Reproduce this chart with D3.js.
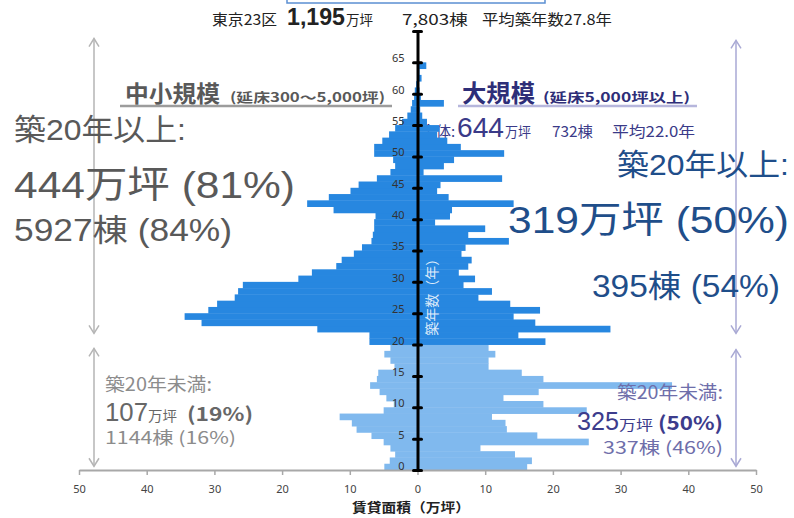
<!DOCTYPE html>
<html>
<head>
<meta charset="utf-8">
<script src="https://cdn.jsdelivr.net/npm/d3@7"></script>
<style>
  html, body { margin: 0; padding: 0; background: #fff; }
  svg { display: block; }
  text { font-family: "Noto Sans CJK JP", "Noto Sans", sans-serif; }
  .latin { font-family: "Liberation Sans", "Noto Sans CJK JP", sans-serif; }
</style>
</head>
<body>
<svg id="chart" width="794" height="518"></svg>
<script>
// Building age in years, one bar per year (0 = newest)
const ages = d3.range(0, 67);

// Rentable floor area of small & mid-size buildings (300–5,000 tsubo), 万坪, by age
const midSmallArea = [
  4.9, 4.1, 3.3, 4.0, 5.0, 6.8, 9.0, 9.7, 11.5, 5.0,
  3.5, 4.6, 5.6, 7.0, 6.0, 5.8, 3.4, 4.0, 4.9, 4.0,
  7.1, 7.1, 14.8, 31.9, 34.4, 30.9, 29.6, 27.0, 26.5, 25.8,
  17.6, 15.6, 12.0, 11.2, 9.4, 8.2, 6.8, 6.6, 6.4, 6.4,
  6.2, 12.4, 16.3, 13.1, 9.9, 8.7, 6.0, 4.0, 3.3, 3.6,
  6.4, 6.4, 5.2, 4.2, 3.3, 2.3, 1.5, 1.0, 0.8, 0.5,
  0.4, 0.2, 0, 0, 0, 0, 0
];

// Rentable floor area of large buildings (5,000 tsubo and over), 万坪, by age
const largeArea = [
  16.2, 16.9, 14.4, 9.3, 25.3, 17.7, 13.2, 13.0, 11.0, 25.0,
  18.6, 12.7, 17.9, 37.6, 18.6, 15.4, 10.5, 10.5, 11.5, 10.5,
  18.9, 14.9, 28.5, 17.4, 14.2, 18.1, 13.7, 9.0, 11.0, 6.8,
  8.5, 6.1, 7.5, 8.0, 6.5, 7.1, 13.5, 7.5, 10.0, 2.6,
  4.8, 5.1, 14.2, 4.6, 2.9, 3.4, 12.5, 0.9, 3.9, 5.4,
  12.8, 6.4, 4.4, 2.9, 3.2, 1.4, 0.7, 0.4, 3.9, 0.5,
  0.3, 0.2, 0.6, 0.3, 1.3, 0, 0
];

// Age boundary between the two colour groups
const ageSplit = 20;

// Axis ticks
const ageTicks = d3.range(0, 75, 5);               // 0 … 70
const areaTicks = [-50, -40, -30, -20, -10, 0, 10, 20, 30, 40, 50];

const colorOld = "#2787e0";
const colorNew = "#80b9ee";

const svg = d3.select("#chart");

const x = d3.scaleLinear().domain([-50, 50]).range([79, 756]);
const y = d3.scaleLinear().domain([0, 70]).range([470, 31]);
const x0 = x(0);

// Places one run of text; optional fitted width keeps the wide label style
function label(parent, t, o) {
  const el = parent.append("text")
    .attr("x", o.x).attr("y", o.y)
    .attr("fill", o.color || "#222")
    .attr("text-anchor", o.anchor || "start")
    .style("font-size", o.size + "px")
    .style("font-weight", o.bold ? "bold" : "normal")
    .text(t);
  if (o.latin) el.attr("class", "latin");
  if (o.len) el.attr("textLength", o.len).attr("lengthAdjust", "spacingAndGlyphs");
  return el;
}

// ---- frame of the title box (only its lower edge shows) ----
svg.append("rect")
  .attr("x", 287).attr("y", -20).attr("width", 258).attr("height", 23)
  .attr("fill", "none").attr("stroke", "#5b8fd2").attr("stroke-width", 1.5);

// ---- headline totals ----
label(svg, "東京23区", { x: 212, y: 25, size: 15, len: 65 });
label(svg, "1,195", { x: 287, y: 25, size: 24, bold: true, latin: true, len: 58 });
label(svg, "万坪", { x: 346, y: 25, size: 14, len: 27 });
label(svg, "7,803棟", { x: 402, y: 25, size: 15, len: 66 });
label(svg, "平均築年数27.8年", { x: 482, y: 25, size: 15, len: 130 });

// ---- double-headed range arrows ----
function rangeArrow(xp, a1, a2, color) {
  const g = svg.append("g").attr("stroke", color).attr("stroke-width", 1.5).attr("fill", "none");
  const yt = y(a1), yb = y(a2);
  g.append("line").attr("x1", xp).attr("x2", xp).attr("y1", yt).attr("y2", yb);
  g.append("path").attr("d", `M${xp - 5},${yt + 8}L${xp},${yt}L${xp + 5},${yt + 8}`);
  g.append("path").attr("d", `M${xp - 5},${yb - 8}L${xp},${yb}L${xp + 5},${yb - 8}`);
}
rangeArrow(94, 68.8, 21.8, "#b5b5b5");
rangeArrow(94, 19.4, 0.6, "#b5b5b5");
rangeArrow(736, 68.5, 21.8, "#a9a9d4");
rangeArrow(736, 19.2, 0.6, "#a9a9d4");

// ---- group headers ----
label(svg, "中小規模", { x: 125, y: 102, size: 23, bold: true, color: "#595959", len: 95 });
label(svg, "(延床300～5,000坪)", { x: 230, y: 102, size: 13, bold: true, color: "#595959", len: 155 });
svg.append("line").attr("x1", 120).attr("x2", 392).attr("y1", 106).attr("y2", 106)
  .attr("stroke", "#9c9c9c").attr("stroke-width", 2.5);

label(svg, "大規模", { x: 462, y: 102, size: 24, bold: true, color: "#2e2e78", len: 73 });
label(svg, "(延床5,000坪以上)", { x: 543, y: 102, size: 13, bold: true, color: "#2e2e78", len: 147 });
svg.append("line").attr("x1", 458).attr("x2", 697).attr("y1", 106).attr("y2", 106)
  .attr("stroke", "#b6b6dc").attr("stroke-width", 2.5);

// large-building summary line (partly covered by the bars)
const sumColor = "#3a3a88";
label(svg, "全体:", { x: 421, y: 137, size: 15, color: sumColor });
label(svg, "644", { x: 457, y: 137, size: 28, color: sumColor, latin: true, len: 47 });
label(svg, "万坪", { x: 505, y: 137, size: 14, color: sumColor, len: 26 });
label(svg, "732棟", { x: 552, y: 137, size: 15, color: sumColor, len: 41 });
label(svg, "平均22.0年", { x: 612, y: 137, size: 15, color: sumColor, len: 83 });

// ---- bars ----
const rows = ages.map((a, i) => ({ age: a, left: midSmallArea[i], right: largeArea[i] }));
const fillFor = d => d.age < ageSplit ? colorNew : colorOld;
const barY = d => y(d.age + 1);
const barH = d => y(d.age) - y(d.age + 1) + 0.4;

svg.append("g").selectAll("rect").data(rows.filter(d => d.left > 0)).join("rect")
  .attr("x", d => x(-d.left)).attr("y", barY)
  .attr("width", d => x0 - x(-d.left)).attr("height", barH)
  .attr("fill", fillFor);

svg.append("g").selectAll("rect").data(rows.filter(d => d.right > 0)).join("rect")
  .attr("x", x0).attr("y", barY)
  .attr("width", d => x(d.right) - x0).attr("height", barH)
  .attr("fill", fillFor);

// vertical caption inside the bars
svg.append("text")
  .attr("transform", `translate(432,${y(28.1)}) rotate(-90)`)
  .attr("text-anchor", "middle").attr("dy", "0.35em")
  .attr("fill", "#ffffff").attr("fill-opacity", 0.85)
  .style("font-size", "14px")
  .text("築年数（年）");

// ---- horizontal axis ----
const gx = svg.append("g").attr("transform", `translate(0,${y(0)})`)
  .call(d3.axisBottom(x).tickValues(areaTicks).tickFormat(d => Math.abs(d))
    .tickSizeInner(5).tickSizeOuter(0).tickPadding(10));
gx.select(".domain").attr("stroke", "#a8a8a8").attr("stroke-width", 2);
gx.selectAll(".tick line").attr("stroke", "#a8a8a8").attr("stroke-width", 1.5);
gx.selectAll(".tick text").attr("fill", "#444").style("font-size", "11px")
  .style("font-family", "\"Noto Sans\", sans-serif");

label(svg, "賃貸面積（万坪）", { x: 352, y: 512, size: 13, bold: true, len: 118 });

// ---- vertical (age) axis ----
const gy = svg.append("g").attr("transform", `translate(${x0},0)`)
  .call(d3.axisLeft(y).tickValues(ageTicks).tickFormat(d => d === 70 ? "" : d)
    .tickSize(0).tickPadding(13));
gy.select(".domain").attr("stroke", "#000").attr("stroke-width", 3);
gy.selectAll(".tick").append("line")
  .attr("x1", -4).attr("x2", 4).attr("stroke", "#000").attr("stroke-width", 3)
  .attr("stroke-linecap", "round");
gy.selectAll(".tick text").attr("fill", "#333").attr("dy", "-0.05em")
  .style("font-size", "11px").style("font-family", "\"Noto Sans\", sans-serif");

// ---- age-group totals (20 years and over) ----
const grayText = "#595959", blueText = "#1f4e8a";
label(svg, "築20年以上:", { x: 14, y: 140, size: 30, color: grayText, latin: true, len: 172 });
label(svg, "444万坪 (81%)", { x: 14, y: 198, size: 37, color: grayText, latin: true, len: 281 });
label(svg, "5927棟 (84%)", { x: 14, y: 241, size: 31, color: grayText, latin: true, len: 218 });
label(svg, "築20年以上:", { x: 617, y: 175, size: 30, color: blueText, latin: true, len: 172 });
label(svg, "319万坪 (50%)", { x: 508, y: 233, size: 37, color: blueText, latin: true, len: 281 });
label(svg, "395棟 (54%)", { x: 592, y: 297, size: 31, color: blueText, latin: true, len: 188 });

// ---- under-20-year totals ----
const lg = "#8c8c8c", lgDark = "#676767";
label(svg, "築20年未満:", { x: 105, y: 391, size: 18, color: lg, len: 107 });
label(svg, "107", { x: 105, y: 421, size: 25, color: lgDark, latin: true, len: 43 });
label(svg, "万坪", { x: 148, y: 421, size: 14, color: lgDark, len: 29 });
label(svg, "(19%)", { x: 187, y: 421, size: 19, bold: true, color: lgDark, len: 66 });
label(svg, "1144棟 (16%)", { x: 105, y: 444, size: 17, color: lg, len: 131 });

const lb = "#6e6eaa", lbDark = "#3c3c8c";
label(svg, "築20年未満:", { x: 617, y: 399, size: 18, color: lb, len: 106 });
label(svg, "325", { x: 577, y: 430, size: 25, color: lbDark, latin: true, len: 42 });
label(svg, "万坪", { x: 619, y: 430, size: 14, color: lbDark, len: 34 });
label(svg, "(50%)", { x: 658, y: 430, size: 19, bold: true, color: lbDark, len: 65 });
label(svg, "337棟 (46%)", { x: 603, y: 454, size: 17, color: lb, len: 120 });
</script>
</body>
</html>
